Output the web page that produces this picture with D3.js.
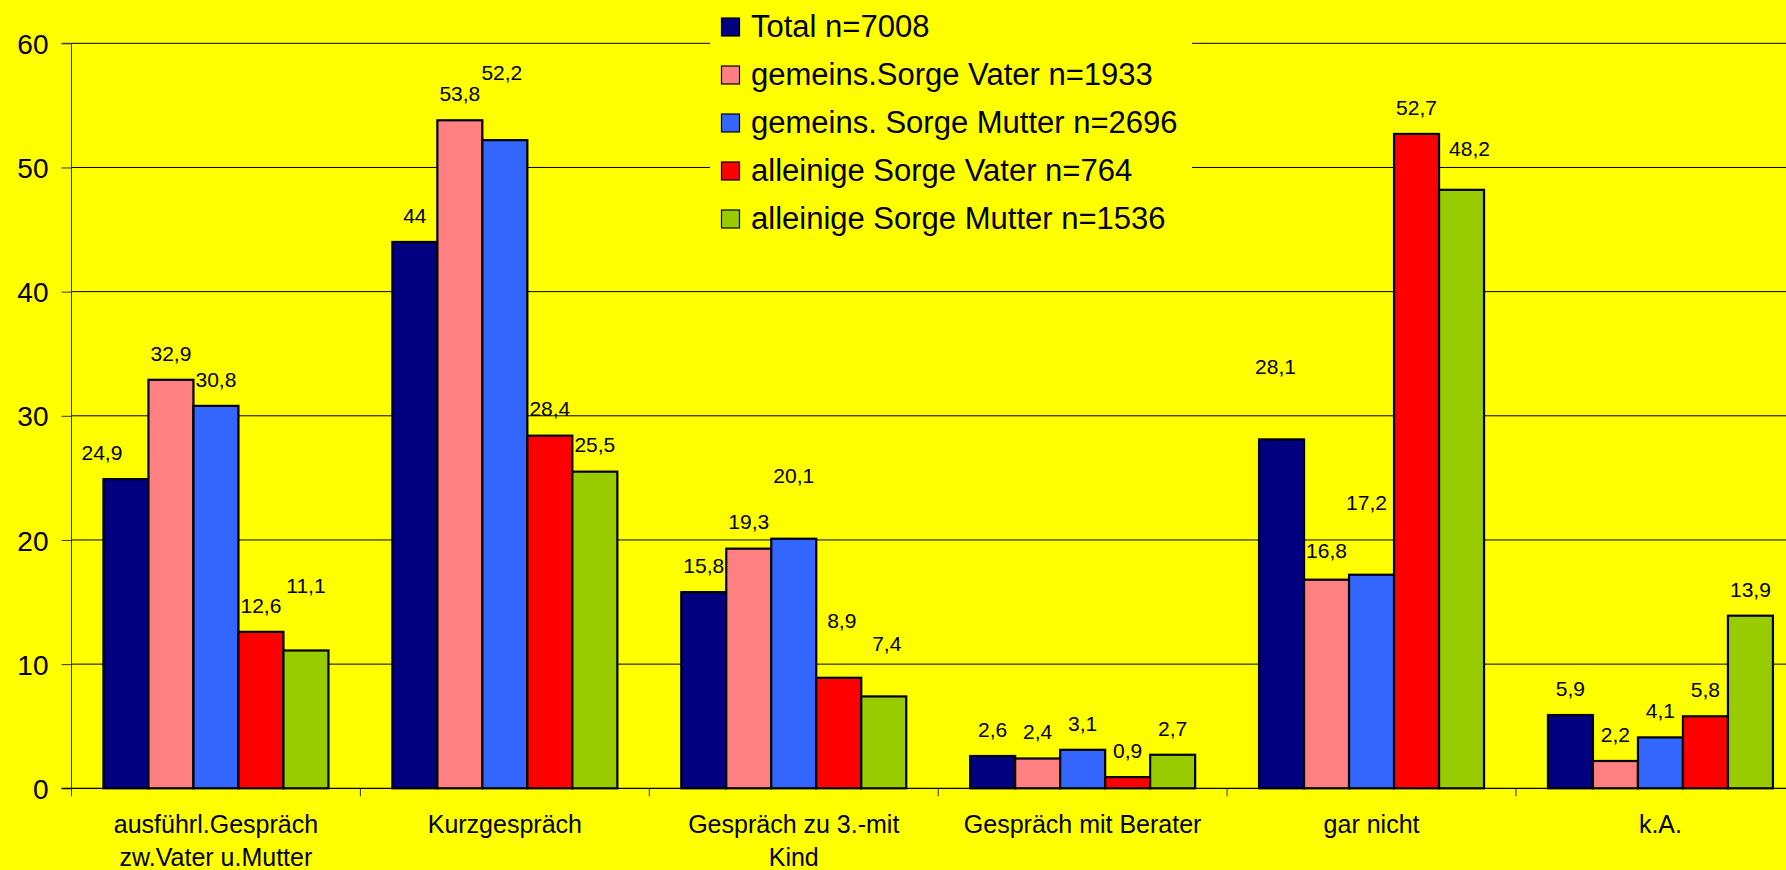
<!DOCTYPE html>
<html>
<head>
<meta charset="utf-8">
<script src="https://cdn.jsdelivr.net/npm/d3@7"></script>
<style>
  html, body { margin: 0; padding: 0; background: #FFFF00; overflow: hidden; }
  svg { display: block; font-family: "Liberation Sans", Arial, sans-serif; }
</style>
</head>
<body>
<svg id="chart" width="1786" height="870"></svg>
<script>
// Categories (multi-line axis labels)
const categories = [
  ["ausführl.Gespräch", "zw.Vater u.Mutter"],
  ["Kurzgespräch"],
  ["Gespräch zu 3.-mit", "Kind"],
  ["Gespräch mit Berater"],
  ["gar nicht"],
  ["k.A."]
];

// Series names and values (percent)
const seriesNames = [
  "Total n=7008",
  "gemeins.Sorge Vater n=1933",
  "gemeins. Sorge Mutter n=2696",
  "alleinige Sorge Vater n=764",
  "alleinige Sorge Mutter n=1536"
];
const totalValues        = [24.9, 44.0, 15.8, 2.6, 28.1, 5.9];
const gemVaterValues     = [32.9, 53.8, 19.3, 2.4, 16.8, 2.2];
const gemMutterValues    = [30.8, 52.2, 20.1, 3.1, 17.2, 4.1];
const alleinVaterValues  = [12.6, 28.4, 8.9, 0.9, 52.7, 5.8];
const alleinMutterValues = [11.1, 25.5, 7.4, 2.7, 48.2, 13.9];
const seriesValues = [totalValues, gemVaterValues, gemMutterValues, alleinVaterValues, alleinMutterValues];

const yTicks = [0, 10, 20, 30, 40, 50, 60];

const seriesColors = ["#000080", "#FF8080", "#3366FF", "#FF0000", "#99CC00"];

// Manually moved data labels: extra [dx, dy] keyed by "category-series"
const labelNudge = {
  "0-0": [-24, 0],
  "0-4": [0, -38],
  "1-2": [-3, -41],
  "2-2": [0, -37],
  "2-3": [3, -31],
  "2-4": [3, -26],
  "4-0": [-6, -46],
  "4-1": [0, -3],
  "4-2": [-5, -46],
  "4-4": [8, -15]
};

const svg = d3.select("#chart");
const W = 1786, H = 870;
svg.append("rect").attr("width", W).attr("height", H).attr("fill", "#FFFF00");

const left = 71.5, step = 288.9;
const right = left + step * categories.length;
const y0 = 788.3, yTop = 43.3;

const x = d3.scaleBand().domain(d3.range(categories.length)).range([left, right]).padding(0);
const xs = d3.scaleBand().domain(d3.range(seriesNames.length)).range([0, x.bandwidth()])
  .paddingInner(0).paddingOuter(0.71);
const y = d3.scaleLinear().domain([0, 60]).range([y0, yTop]);

// Gridlines
svg.append("g").selectAll("line").data(yTicks.filter(t => t > 0)).join("line")
  .attr("x1", left).attr("x2", right)
  .attr("y1", d => y(d)).attr("y2", d => y(d))
  .attr("stroke", "#000").attr("stroke-width", 1);

// Y axis
const yAxis = d3.axisLeft(y).tickValues(yTicks).tickSize(10).tickPadding(13).tickFormat(d3.format("d"));
const gy = svg.append("g").attr("transform", `translate(${left},0)`).call(yAxis);
gy.select(".domain").attr("stroke", "#333").attr("d", `M-10,${yTop}H0V${y0 + 8}`);
gy.selectAll(".tick line").attr("stroke", "#333");
gy.selectAll(".tick text").attr("font-size", 28).attr("fill", "#000")
  .attr("font-family", "Liberation Sans, Arial, sans-serif").attr("dy", "0.36em");

// X axis baseline and category tick marks
svg.append("line").attr("x1", left - 10).attr("x2", right).attr("y1", y0).attr("y2", y0)
  .attr("stroke", "#000").attr("stroke-width", 1.2);
svg.append("g").selectAll("line").data(d3.range(1, categories.length + 1)).join("line")
  .attr("x1", d => left + d * x.step()).attr("x2", d => left + d * x.step())
  .attr("y1", y0).attr("y2", y0 + 8).attr("stroke", "#333");

// Category labels
const catG = svg.append("g").selectAll("text").data(categories).join("text")
  .attr("text-anchor", "middle").attr("font-size", 25).attr("fill", "#000")
  .attr("x", (d, i) => x(i) + x.bandwidth() / 2).attr("y", 833);
catG.selectAll("tspan").data(d => d).join("tspan")
  .attr("x", function () { return d3.select(this.parentNode).attr("x"); })
  .attr("dy", (d, i) => i === 0 ? 0 : 33)
  .text(d => d);

// Bars
const groups = svg.append("g").selectAll("g").data(categories).join("g")
  .attr("transform", (d, i) => `translate(${x(i)},0)`);
groups.selectAll("rect").data((d, ci) => seriesValues.map((vals, si) => ({ ci, si, v: vals[ci] })))
  .join("rect")
  .attr("x", d => xs(d.si)).attr("width", xs.bandwidth())
  .attr("y", d => y(d.v)).attr("height", d => y0 - y(d.v))
  .attr("fill", d => seriesColors[d.si])
  .attr("stroke", "#000").attr("stroke-width", 2.2);

// Data labels
const fmt = v => String(v).replace(".", ",");
groups.selectAll("text").data((d, ci) => seriesValues.map((vals, si) => ({ ci, si, v: vals[ci] })))
  .join("text")
  .attr("text-anchor", "middle").attr("font-size", 21).attr("fill", "#000")
  .attr("x", d => xs(d.si) + xs.bandwidth() / 2 + (labelNudge[`${d.ci}-${d.si}`] || [0, 0])[0])
  .attr("y", d => y(d.v) - 19.2 + (labelNudge[`${d.ci}-${d.si}`] || [0, 0])[1])
  .text(d => fmt(d.v));

// Legend
const legend = svg.append("g");
legend.append("rect").attr("x", 710).attr("y", -5).attr("width", 482).attr("height", 250).attr("fill", "#FFFF00");
const items = legend.selectAll("g").data(seriesNames).join("g")
  .attr("transform", (d, i) => `translate(721,${27 + i * 48})`);
items.append("rect").attr("x", 0.5).attr("y", -9).attr("width", 18).attr("height", 18)
  .attr("fill", (d, i) => seriesColors[i]).attr("stroke", "#000").attr("stroke-width", 1.2);
items.append("text").attr("x", 30).attr("y", 9.5).attr("font-size", 31).attr("fill", "#000").text(d => d);
</script>
</body>
</html>
